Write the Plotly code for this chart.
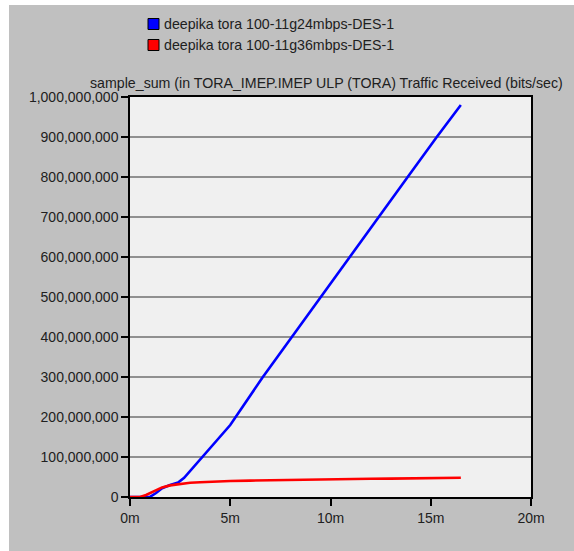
import plotly.graph_objects as go

# Simulation time (minutes) and cumulative traffic received (bits/sec sample_sum)
series_names = ["deepika tora 100-11g24mbps-DES-1", "deepika tora 100-11g36mbps-DES-1"]
series_colors = ["#0000ff", "#ff0000"]

t_24 = [0, 0.5, 1.0, 1.3, 1.6, 2.0, 2.4, 2.7, 3.0, 3.5, 4.0, 4.5, 5.0,
        6.6, 8.05, 9.5, 10.95, 12.4, 13.85, 15.3, 16.5]
v_24 = [0, 0, 0.5e6, 10e6, 22e6, 30e6, 36e6, 48e6, 65e6, 95e6, 124e6, 150e6, 180e6,
        298e6, 399e6, 500e6, 600e6, 700e6, 800e6, 900e6, 980e6]

t_36 = [0, 0.5, 0.8, 1.2, 1.6, 2.0, 2.5, 3.0, 3.5, 4.0, 5.0, 6.0, 7.0, 8.0,
        9.0, 10.0, 11.0, 12.0, 13.0, 14.0, 15.0, 16.5]
v_36 = [0, 0, 5e6, 15e6, 24e6, 29e6, 33e6, 35.5e6, 37e6, 38.5e6, 40e6, 41e6, 42e6, 43e6,
        44e6, 44.5e6, 45e6, 45.5e6, 46e6, 46.5e6, 47e6, 48e6]

x_tick_vals = [0, 5, 10, 15, 20]
x_tick_text = ["0m", "5m", "10m", "15m", "20m"]
y_tick_vals = [i * 100_000_000 for i in range(11)]
y_tick_text = [f"{v:,}" for v in y_tick_vals]

title_text = "sample_sum (in TORA_IMEP.IMEP ULP (TORA) Traffic Received (bits/sec)"

W, H = 574, 551
L, R, T, B = 130, 43, 97, 54
pw, ph = W - L - R, H - T - B


def px_x(p):
    return (p - L) / pw


def px_y(p):
    return 1 - (p - T) / ph


fig = go.Figure()
for t, v, c in [(t_24, v_24, series_colors[0]), (t_36, v_36, series_colors[1])]:
    fig.add_trace(go.Scatter(x=t, y=v, mode="lines",
                             line=dict(color=c, width=2.6),
                             showlegend=False, hoverinfo="skip"))

shapes = [
    # white margin strips around the grey panel
    dict(type="rect", xref="paper", yref="paper", x0=px_x(0), x1=px_x(9), y0=px_y(H), y1=px_y(0),
         fillcolor="white", line=dict(width=0), layer="below"),
    dict(type="rect", xref="paper", yref="paper", x0=px_x(0), x1=px_x(W), y0=px_y(5), y1=px_y(0),
         fillcolor="white", line=dict(width=0), layer="below"),
]
annotations = []
# legend swatches and labels
for i, (name, col) in enumerate(zip(series_names, series_colors)):
    cy = 24 + 21 * i
    shapes.append(dict(type="rect", xref="paper", yref="paper",
                       x0=px_x(148), x1=px_x(159), y0=px_y(cy + 5.5), y1=px_y(cy - 5.5),
                       fillcolor=col, line=dict(color="black", width=1)))
    annotations.append(dict(x=px_x(162), y=px_y(cy), xref="paper", yref="paper",
                            text=name, showarrow=False, xanchor="left", yanchor="middle",
                            font=dict(size=14.2, color="#202020")))

annotations.append(dict(x=px_x(88), y=px_y(83), xref="paper", yref="paper",
                        text=title_text, showarrow=False, xanchor="left", yanchor="middle",
                        font=dict(size=14.2, color="#202020")))

fig.update_layout(
    width=W, height=H,
    margin=dict(l=L, r=R, t=T, b=B),
    paper_bgcolor="#c0c0c0",
    plot_bgcolor="#f0f0f0",
    font=dict(family="Liberation Sans, Arial, sans-serif", size=14, color="#202020"),
    shapes=shapes,
    annotations=annotations,
    xaxis=dict(range=[0, 20], tickvals=x_tick_vals, ticktext=x_tick_text,
               showgrid=False, zeroline=False, showline=True, linecolor="black",
               linewidth=1.5, mirror=True, ticks="outside", ticklen=7, tickwidth=1.5,
               tickcolor="black", tickfont=dict(size=14)),
    yaxis=dict(range=[0, 1_000_000_000], tickvals=y_tick_vals, ticktext=y_tick_text,
               showgrid=True, gridcolor="#909090", gridwidth=1.5, zeroline=False,
               showline=True, linecolor="black", linewidth=1.5, mirror=True,
               ticks="outside", ticklen=7, tickwidth=1.5, tickcolor="black",
               tickfont=dict(size=14)),
)

fig.write_html("out.html")
